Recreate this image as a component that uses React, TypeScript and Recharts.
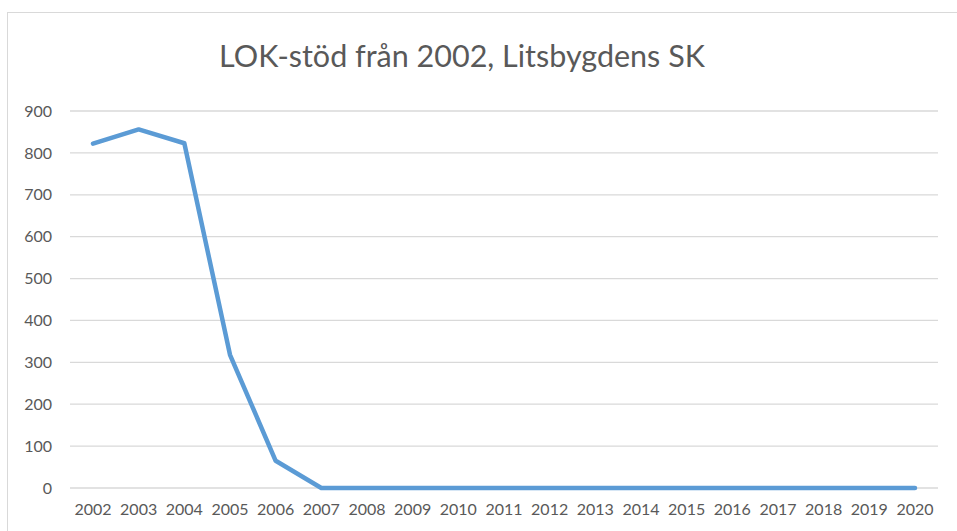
import { LineChart, Line, XAxis, YAxis, CartesianGrid } from 'recharts';

const years = [
  '2002', '2003', '2004', '2005', '2006', '2007', '2008', '2009', '2010', '2011',
  '2012', '2013', '2014', '2015', '2016', '2017', '2018', '2019', '2020',
];
const stod = [822, 856, 823, 318, 65, 0, 0, 0, 0, 0, 0, 0, 0, 0, 0, 0, 0, 0, 0];
const yTicks = [0, 100, 200, 300, 400, 500, 600, 700, 800, 900];

const data = years.map((year, i) => ({ year, value: stod[i] }));

const FONT = 'Lato, "Open Sans", sans-serif';
const TEXT = '#595959';

export default function App() {
  return (
    <div
      style={{
        position: 'absolute',
        left: 0,
        top: 0,
        width: 957,
        height: 531,
        overflow: 'hidden',
        background: '#fff',
        fontFamily: FONT,
      }}
    >
      {/* chart frame, only left and top edges are visible */}
      <div
        style={{
          position: 'absolute',
          left: 7,
          top: 12,
          width: 1000,
          height: 600,
          border: '1px solid #d9d9d9',
        }}
      />
      <div
        style={{
          position: 'absolute',
          left: 0,
          width: 924,
          top: 35,
          textAlign: 'center',
          fontSize: 30.5,
          color: TEXT,
          lineHeight: '40px',
        }}
      >
        LOK-stöd från 2002, Litsbygdens SK
      </div>
      <div style={{ position: 'absolute', left: 0, top: 0 }}>
        <LineChart
          width={957}
          height={531}
          data={data}
          margin={{ top: 111, right: 19, bottom: 13, left: 10 }}
        >
          <CartesianGrid vertical={false} stroke="#d9d9d9" strokeWidth={1.3} />
          <XAxis
            dataKey="year"
            axisLine={false}
            tickLine={false}
            tickMargin={10}
            height={30}
            interval={0}
            padding={{ left: 23, right: 23 }}
            tick={{ fill: TEXT, fontSize: 16, fontFamily: FONT }}
          />
          <YAxis
            domain={[0, 900]}
            ticks={yTicks}
            axisLine={false}
            tickLine={false}
            tickMargin={12}
            width={60}
            tick={{ fill: TEXT, fontSize: 16, fontFamily: FONT }}
          />
          <Line
            type="linear"
            dataKey="value"
            stroke="#5b9bd5"
            strokeWidth={4.5}
            strokeLinecap="round"
            strokeLinejoin="round"
            dot={false}
            isAnimationActive={false}
          />
        </LineChart>
      </div>
    </div>
  );
}
